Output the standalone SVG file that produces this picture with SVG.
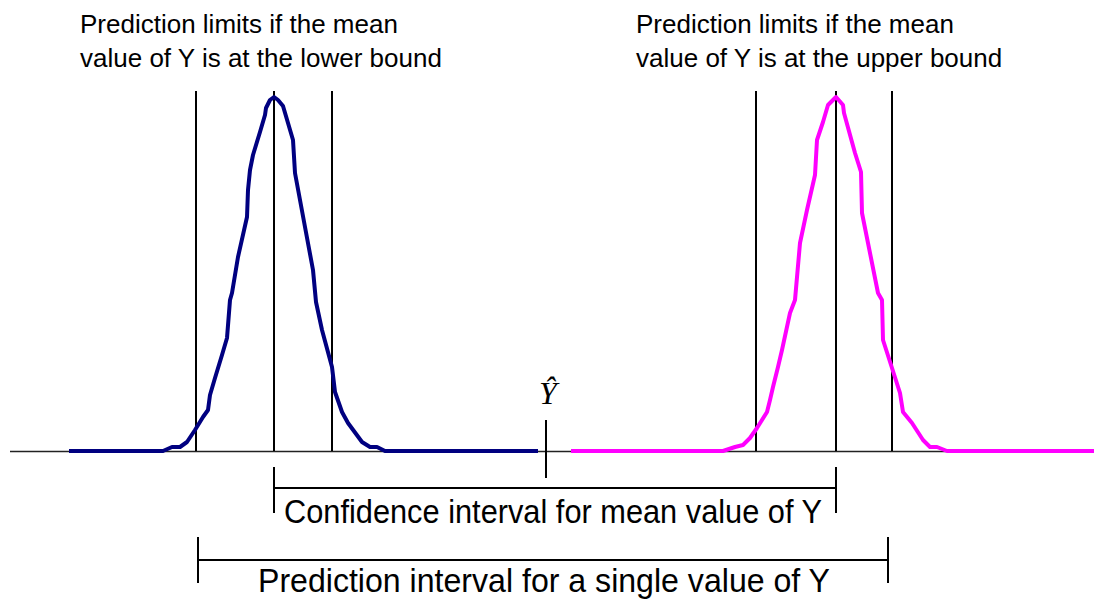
<svg xmlns="http://www.w3.org/2000/svg" width="1094" height="599" viewBox="0 0 1094 599">
<style>
.lbl{font-family:"Liberation Sans",Arial,sans-serif;font-size:26px;fill:#000}
.big{font-family:"Liberation Sans",Arial,sans-serif;font-size:33px;fill:#000}
.vl{stroke:#000;stroke-width:2;fill:none}
.curve{fill:none;stroke-width:4;stroke-linejoin:round;stroke-linecap:butt}
.axis{stroke:#222;stroke-width:1.5}
</style>
<rect width="1094" height="599" fill="#fff"/>
<g id="axis">
<line class="axis" x1="10" y1="451.5" x2="1094" y2="451.5"/>
</g>
<g id="lower-dist">
<line class="vl" x1="196" y1="91" x2="196" y2="451"/>
<line class="vl" x1="274" y1="91" x2="274" y2="451"/>
<line class="vl" x1="332" y1="91" x2="332" y2="451"/>
<polyline class="curve" stroke="#000080" points="69,451 163,451 172,447 180,447 187,442 195,430 203,417 208,410 210,395 215,378 222,355 227,338 230,300 232,293 238,257 247,217 248,190 250,170 253,155 260,132 265,115 266,108 270,100 274,97 278,100 283,106 293,140 295,173 305,227 313,270 316,302 322,330 332,367 335,392 342,412 348,423 362,442 370,447 377,447 385,451 538,451"/>
<text class="lbl" x="80" y="33">Prediction limits if the mean</text>
<text class="lbl" x="80" y="67">value of Y is at the lower bound</text>
</g>
<g id="upper-dist">
<line class="vl" x1="756" y1="91" x2="756" y2="451"/>
<line class="vl" x1="836" y1="91" x2="836" y2="451"/>
<line class="vl" x1="892" y1="91" x2="892" y2="451"/>
<polyline class="curve" stroke="#FF00FF" points="571,451 723,451 735,447 743,445 750,438 757,428 767,412 770,400 773,387 778,367 782,350 790,313 795,300 800,243 807,210 815,175 817,140 823,122 828,105 836,97 843,105 844,113 855,153 861,172 862,213 878,293 882,300 883,340 892,368 900,393 903,412 912,423 923,440 930,447 937,447 947,451 1094,451"/>
<text class="lbl" x="636" y="33">Prediction limits if the mean</text>
<text class="lbl" x="636" y="67">value of Y is at the upper bound</text>
</g>
<g id="yhat">
<line class="vl" x1="546" y1="420" x2="546" y2="478"/>
<text x="548" y="404" text-anchor="middle" font-family="'Liberation Serif','Times New Roman',serif" font-style="italic" font-size="32">Ŷ</text>
</g>
<g id="connectors">
<g id="confidence-interval">
<line class="vl" x1="274" y1="467" x2="274" y2="513"/>
<line class="vl" x1="836" y1="467" x2="836" y2="513"/>
<line class="vl" x1="274" y1="488" x2="836" y2="488"/>
</g>
<g id="prediction-interval">
<line class="vl" x1="198" y1="537" x2="198" y2="583"/>
<line class="vl" x1="888" y1="537" x2="888" y2="583"/>
<line class="vl" x1="198" y1="560" x2="888" y2="560"/>
</g>
</g>
<text class="big" x="284" y="523" textLength="538" lengthAdjust="spacingAndGlyphs">Confidence interval for mean value of Y</text>
<text class="big" x="258" y="592" textLength="572" lengthAdjust="spacingAndGlyphs">Prediction interval for a single value of Y</text>
</svg>
